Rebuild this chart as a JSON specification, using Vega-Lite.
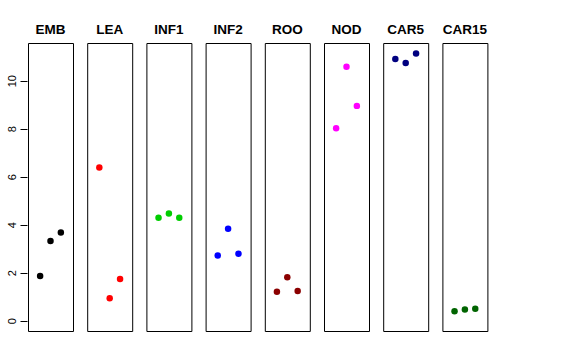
{
  "$schema": "https://vega.github.io/schema/vega-lite/v6.json",
  "padding": {"left": 6, "top": 22, "right": 5, "bottom": 5},
  "background": "white",
  "config": {
    "font": "Liberation Sans",
    "view": {"stroke": "black", "strokeWidth": 1},
    "axis": {"grid": false}
  },
  "data": {
    "values": [
      {"tissue": "EMB", "rep": 1, "value": 1.86},
      {"tissue": "EMB", "rep": 2, "value": 3.32},
      {"tissue": "EMB", "rep": 3, "value": 3.67},
      {"tissue": "LEA", "rep": 1, "value": 6.38},
      {"tissue": "LEA", "rep": 2, "value": 0.93},
      {"tissue": "LEA", "rep": 3, "value": 1.74},
      {"tissue": "INF1", "rep": 1, "value": 4.29},
      {"tissue": "INF1", "rep": 2, "value": 4.47},
      {"tissue": "INF1", "rep": 3, "value": 4.29},
      {"tissue": "INF2", "rep": 1, "value": 2.72},
      {"tissue": "INF2", "rep": 2, "value": 3.83},
      {"tissue": "INF2", "rep": 3, "value": 2.79},
      {"tissue": "ROO", "rep": 1, "value": 1.21},
      {"tissue": "ROO", "rep": 2, "value": 1.81},
      {"tissue": "ROO", "rep": 3, "value": 1.24},
      {"tissue": "NOD", "rep": 1, "value": 8.02},
      {"tissue": "NOD", "rep": 2, "value": 10.58},
      {"tissue": "NOD", "rep": 3, "value": 8.95},
      {"tissue": "CAR5", "rep": 1, "value": 10.9},
      {"tissue": "CAR5", "rep": 2, "value": 10.74},
      {"tissue": "CAR5", "rep": 3, "value": 11.13},
      {"tissue": "CAR15", "rep": 1, "value": 0.39},
      {"tissue": "CAR15", "rep": 2, "value": 0.47},
      {"tissue": "CAR15", "rep": 3, "value": 0.5}
    ]
  },
  "facet": {
    "column": {
      "field": "tissue",
      "type": "nominal",
      "sort": ["EMB", "LEA", "INF1", "INF2", "ROO", "NOD", "CAR5", "CAR15"],
      "title": null,
      "header": {
        "labelFontSize": 13.5,
        "labelFontWeight": "bold",
        "labelColor": "black",
        "labelFont": "Liberation Sans",
        "labelPadding": 6
      }
    }
  },
  "spacing": 12.2,
  "spec": {
    "width": 45,
    "height": 288,
    "mark": {"type": "point", "filled": true, "opacity": 1, "size": 42},
    "encoding": {
      "x": {
        "field": "rep",
        "type": "quantitative",
        "scale": {"domain": [-0.17, 4.17], "nice": false, "zero": false},
        "axis": null
      },
      "y": {
        "field": "value",
        "type": "quantitative",
        "scale": {"domain": [-0.43, 11.57], "nice": false, "zero": false},
        "axis": {
          "title": null,
          "values": [0, 2, 4, 6, 8, 10],
          "domain": false,
          "tickSize": 7,
          "tickColor": "black",
          "labelAngle": -90,
          "labelAlign": "center",
          "labelBaseline": "bottom",
          "labelPadding": 3,
          "labelFontSize": 11,
          "labelColor": "black",
          "labelFont": "Liberation Sans"
        }
      },
      "color": {
        "field": "tissue",
        "type": "nominal",
        "scale": {
          "domain": ["EMB", "LEA", "INF1", "INF2", "ROO", "NOD", "CAR5", "CAR15"],
          "range": ["#000000", "#FF0000", "#00CD00", "#0000FF", "#8B0000", "#FF00FF", "#000080", "#006400"]
        },
        "legend": null
      }
    }
  }
}
